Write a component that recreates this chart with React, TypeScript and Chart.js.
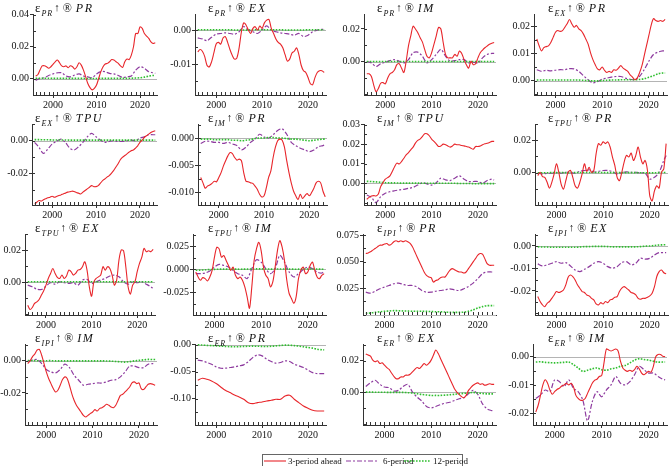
import React, { useEffect, useRef } from 'react';
import { Chart, registerables } from 'chart.js';

Chart.register(...registerables);

// ---------- x grids ----------
const HALF_YEARS = [
  1996, 1996.5, 1997, 1997.5, 1998, 1998.5, 1999, 1999.5, 2000, 2000.5, 2001, 2001.5, 2002, 2002.5,
  2003, 2003.5, 2004, 2004.5, 2005, 2005.5, 2006, 2006.5, 2007, 2007.5, 2008, 2008.5, 2009, 2009.5,
  2010, 2010.5, 2011, 2011.5, 2012, 2012.5, 2013, 2013.5, 2014, 2014.5, 2015, 2015.5, 2016, 2016.5,
  2017, 2017.5, 2018, 2018.5, 2019, 2019.5, 2020, 2020.5, 2021, 2021.5, 2022, 2022.5, 2023, 2023.5,
];
const YEARS = [
  1996, 1997, 1998, 1999, 2000, 2001, 2002, 2003, 2004, 2005, 2006, 2007, 2008, 2009,
  2010, 2011, 2012, 2013, 2014, 2015, 2016, 2017, 2018, 2019, 2020, 2021, 2022, 2023, 2023.5,
];
const X_TICKS = [2000, 2010, 2020];
const SERIES_LABELS = ['3-period ahead', '6-period', '12-period'];

// ---------- PR -> PR ----------
const PR_PR_3 = [
  0.0017, 0.0025, 0.0054, 0.008, 0.0081, 0.0075, 0.0065, 0.0075,
  0.009, 0.0106, 0.0117, 0.010, 0.008, 0.0075, 0.008, 0.0069,
  0.0081, 0.0075, 0.006, 0.0075, 0.010, 0.0085, 0.0054, 0.0013,
  -0.003, -0.0056, -0.007, -0.006, -0.004, 0.0002, 0.0044, 0.0075,
  0.0092, 0.0096, 0.0106, 0.012, 0.0117, 0.0106, 0.0096, 0.008,
  0.0071, 0.0106, 0.0123, 0.012, 0.0148, 0.02, 0.0283, 0.0283,
  0.0325, 0.0315, 0.0283, 0.0267, 0.0252, 0.0231, 0.022, 0.0225,
];
const PR_PR_6 = [
  -0.001, 0.0002, 0.0006, 0.002, 0.003, 0.0037, 0.0037, 0.0017, 0.0012, 0.0023, 0.003, 0.0017, 0.0012, 0.0006,
  0.003, 0.0044, 0.0044, 0.0033, 0.003, 0.002, 0.0008, 0.0012, 0.0017, 0.0054, 0.0075, 0.0065, 0.0044, 0.0037, 0.0033,
];
const PR_PR_12 = [
  0.0002, 0.0002, 0.0003, 0.0003, 0.0002, 0.0002, 0.0002, 0.0002, 0.0002, 0.0002, 0.0002, 0.0002, 0.0001, 0.0001,
  0.0001, 0.0002, 0.0002, 0.0002, 0.0002, 0.0002, 0.0002, 0.0002, 0.0003, 0.0004, 0.0006, 0.001, 0.0016, 0.002, 0.002,
];

// ---------- PR -> EX ----------
const PR_EX_3 = [
  -0.0064, -0.0057, -0.0062, -0.0077, -0.0103, -0.0108, -0.0093, -0.0067,
  -0.0041, -0.0036, -0.0041, -0.0023, -0.0019, -0.0036, -0.0057, -0.0074,
  -0.0085, -0.0082, -0.0052, -0.0005, 0.0021, 0.0015, 0.0, -0.001,
  0.0005, 0.001, 0.0, 0.0012, 0.0005, 0.0021, 0.0029, 0.0031,
  0.0005, -0.001, -0.0026, -0.0036, -0.0041, -0.0052, -0.0072, -0.0091,
  -0.0085, -0.0067, -0.0062, -0.0052, -0.0072, -0.0103, -0.0119, -0.0124,
  -0.0139, -0.0157, -0.016, -0.0139, -0.0124, -0.0119, -0.0119, -0.0124,
];
const PR_EX_6 = [
  -0.0023, -0.0026, -0.0031, -0.0021, -0.0012, -0.001, -0.0008, -0.001, -0.0012, -0.0005, 0.001, 0.0, -0.0005, -0.001,
  0.0, 0.0012, 0.0, -0.0005, -0.0008, -0.001, -0.0012, -0.0015, -0.001, -0.0019, -0.0015, -0.0005, 0.0, 0.0002, 0.0002,
];
const PR_EX_12 = [
  0.0001, 0.0001, 0.0001, 0.0001, 0.0001, 0.0001, 0.0001, 0.0001, 0.0, 0.0, 0.0, 0.0, 0.0001, 0.0001,
  0.0001, 0.0001, 0.0001, 0.0001, 0.0001, 0.0, 0.0, 0.0, 0.0, 0.0, 0.0001, 0.0001, 0.0001, 0.0001, 0.0001,
];

// ---------- PR -> IM ----------
const PR_IM_3 = [
  -0.0075, -0.0075, -0.0092, -0.0144, -0.0185, -0.0165, -0.0133, -0.0129,
  -0.0137, -0.0102, -0.0075, -0.0067, -0.005, -0.0019, -0.0013, -0.004,
  -0.0067, 0.0002, 0.0096, 0.0158, 0.0217, 0.02, 0.0179, 0.0148,
  0.0121, 0.0075, 0.0033, 0.0023, 0.0054, 0.0106, 0.0158, 0.021,
  0.02, 0.0117, 0.0044, 0.0023, 0.0023, 0.0023, 0.0044, 0.0033,
  0.0065, 0.005, 0.0012, -0.0019, -0.004, 0.0002, -0.0019, -0.0013,
  0.0023, 0.0054, 0.0071, 0.0085, 0.0096, 0.0106, 0.0113, 0.0117,
];
const PR_IM_6 = [
  0.0, -0.0008, -0.003, -0.0013, -0.0004, 0.0006, 0.0012, 0.0002, -0.0008, 0.0012, 0.0054, 0.0058, 0.0033, -0.0008,
  0.0012, 0.0044, 0.0075, 0.0033, 0.0002, 0.0006, 0.0012, 0.0012, -0.0008, -0.0004, -0.0008, 0.0023, 0.0044, 0.005, 0.005,
];
const PR_IM_12 = [
  0.0001, 0.0001, 0.0001, 0.0001, 0.0001, 0.0001, 0.0001, 0.0001, 0.0001, 0.0001, 0.0001, 0.0001, 0.0001, 0.0001,
  0.0001, 0.0001, 0.0001, 0.0001, 0.0001, 0.0001, 0.0001, 0.0001, 0.0001, 0.0001, 0.0001, 0.0001, 0.0001, 0.0001, 0.0001,
];

// ---------- EX -> PR ----------
const EX_PR_3 = [
  0.0153, 0.0128, 0.0109, 0.0121, 0.0125, 0.0128, 0.014, 0.0159,
  0.0178, 0.0184, 0.0181, 0.0184, 0.0196, 0.0209, 0.0225, 0.0209,
  0.0196, 0.0203, 0.019, 0.0184, 0.0171, 0.0153, 0.0134, 0.0103,
  0.0078, 0.0059, 0.0043, 0.004, 0.005, 0.0038, 0.003, 0.0034,
  0.003, 0.004, 0.0038, 0.0046, 0.0055, 0.0046, 0.004, 0.0034,
  0.0021, 0.0013, 0.0003, 0.0009, 0.0028, 0.0053, 0.009, 0.0128,
  0.0165, 0.0203, 0.0228, 0.0221, 0.0218, 0.0221, 0.0218, 0.0225,
];
const EX_PR_6 = [
  0.004, 0.0034, 0.0038, 0.0036, 0.0038, 0.004, 0.004, 0.0044, 0.0043, 0.0034, 0.0018, 0.0003, -0.0008, -0.0004,
  0.0005, 0.0009, 0.0013, 0.0015, 0.0015, 0.0009, 0.0005, 0.0003, 0.0015, 0.004, 0.0071, 0.0096, 0.0105, 0.0109, 0.0109,
];
const EX_PR_12 = [
  0.0002, 0.0002, 0.0002, 0.0002, 0.0002, 0.0002, 0.0002, 0.0002, 0.0002, 0.0002, 0.0001, 0.0, -0.0001, -0.0001,
  0.0, 0.0001, 0.0002, 0.0002, 0.0003, 0.0003, 0.0003, 0.0003, 0.0004, 0.0007, 0.0012, 0.0018, 0.0025, 0.0028, 0.0028,
];

// ---------- EX -> TPU ----------
const EX_TPU_3 = [
  -0.039, -0.0378, -0.0367, -0.0371, -0.0363, -0.0357, -0.0351, -0.0347,
  -0.0341, -0.0347, -0.0343, -0.0337, -0.0333, -0.0327, -0.0322, -0.0316,
  -0.0314, -0.031, -0.0312, -0.0318, -0.0322, -0.0327, -0.0316, -0.0306,
  -0.0296, -0.0286, -0.0276, -0.0282, -0.0282, -0.0276, -0.0261, -0.0245,
  -0.0235, -0.0224, -0.0214, -0.02, -0.0184, -0.0163, -0.0143, -0.0118,
  -0.0102, -0.0092, -0.0082, -0.0071, -0.0061, -0.0057, -0.0045, -0.0031,
  -0.001, 0.0004, 0.002, 0.0031, 0.0041, 0.0051, 0.0057, 0.0061,
];
const EX_TPU_6 = [
  -0.001, -0.0041, -0.0078, -0.0051, -0.002, -0.0004, 0.001, -0.001, -0.0045, -0.0057, -0.0037, -0.001, 0.0024, 0.0045,
  0.0024, 0.0004, -0.001, -0.0004, 0.0, -0.0004, -0.0004, 0.0, 0.0004, 0.0, 0.0016, 0.0024, 0.0037, 0.0037, 0.0037,
];
const EX_TPU_12 = [
  0.0007, 0.0007, 0.0006, 0.0006, 0.0005, 0.0005, 0.0005, 0.0005, 0.0004, 0.0004, 0.0004, 0.0004, 0.0004, 0.0004,
  0.0004, 0.0004, 0.0004, 0.0004, 0.0004, 0.0004, 0.0004, 0.0004, 0.0004, 0.0004, 0.0004, 0.0004, 0.0004, 0.0004, 0.0004,
];

// ---------- IM -> PR ----------
const IM_PR_3 = [
  -0.0073, -0.0083, -0.0093, -0.0089, -0.0087, -0.0084, -0.008, -0.0081,
  -0.0073, -0.0064, -0.0052, -0.0042, -0.0033, -0.0027, -0.0029, -0.0036,
  -0.0041, -0.0039, -0.0042, -0.0064, -0.008, -0.0081, -0.0083, -0.0084,
  -0.0089, -0.0095, -0.0104, -0.0109, -0.0107, -0.0092, -0.0073, -0.0061,
  -0.0036, -0.0017, -0.0005, -0.0002, -0.0004, -0.0017, -0.0042, -0.0064,
  -0.0083, -0.0098, -0.0107, -0.0114, -0.0104, -0.0112, -0.0107, -0.0103,
  -0.0107, -0.0101, -0.0093, -0.0083, -0.008, -0.0083, -0.0098, -0.0109,
];
const IM_PR_6 = [
  -0.001, -0.0006, -0.0006, -0.0008, -0.0008, -0.001, -0.0008, -0.0011, -0.0014, -0.0022, -0.0017, -0.0008, -0.0002, 0.0007,
  0.0002, 0.0, 0.0006, 0.0014, 0.0017, 0.0007, -0.0008, -0.0014, -0.0019, -0.0022, -0.0025, -0.0022, -0.0016, -0.0014, -0.0012,
];
const IM_PR_12 = [
  -0.0002, -0.0002, -0.0002, -0.0003, -0.0003, -0.0003, -0.0003, -0.0004, -0.0004, -0.0005, -0.0004, -0.0003, -0.0001, 0.0,
  0.0, 0.0001, 0.0001, 0.0, 0.0, -0.0001, -0.0002, -0.0002, -0.0003, -0.0004, -0.0005, -0.0004, -0.0003, -0.0002, -0.0002,
];

// ---------- IM -> TPU ----------
const IM_TPU_3 = [
  -0.0082, -0.0072, -0.0065, -0.0063, -0.0065, -0.0055, -0.0017, 0.0003,
  0.0021, 0.0029, 0.0038, 0.006, 0.0085, 0.0103, 0.0099, 0.0111,
  0.0128, 0.0145, 0.0157, 0.0171, 0.0185, 0.0205, 0.0219, 0.0226,
  0.0239, 0.0253, 0.0253, 0.0243, 0.0226, 0.0214, 0.0202, 0.0188,
  0.0191, 0.02, 0.0197, 0.0191, 0.0185, 0.0191, 0.02, 0.0197,
  0.0197, 0.0193, 0.0191, 0.0188, 0.0185, 0.0179, 0.0174, 0.0188,
  0.0188, 0.0191, 0.0197, 0.0202, 0.0205, 0.0209, 0.0214, 0.0214,
];
const IM_TPU_6 = [
  -0.006, -0.0072, -0.0099, -0.0068, -0.0051, -0.0043, -0.0038, -0.0034, -0.0031, -0.0026, -0.0021, -0.0009, 0.0003, -0.0003,
  -0.0009, 0.0003, 0.0026, 0.0017, 0.0014, 0.0026, 0.0038, 0.0021, 0.0009, 0.0009, 0.0009, 0.0, 0.0014, 0.0021, 0.0017,
];
const IM_TPU_12 = [
  0.001, 0.0009, 0.0007, 0.0005, 0.0003, 0.0002, 0.0002, 0.0001, 0.0001, 0.0001, 0.0001, 0.0001, 0.0, 0.0,
  0.0, 0.0, 0.0, 0.0, 0.0, 0.0, -0.0001, -0.0001, -0.0001, -0.0002, -0.0002, -0.0002, -0.0002, -0.0002, -0.0002,
];

// ---------- TPU -> PR ----------
const TPU_PR_3 = [
  -0.0019, 0.0002, -0.0025, -0.0029, -0.006, -0.0096, -0.006, -0.0008,
  0.0054, 0.0002, -0.0071, -0.0102, -0.005, 0.0002, 0.0013, -0.0029,
  -0.0081, -0.0096, -0.006, -0.0008, 0.0054, 0.0008, 0.0033, 0.0002,
  0.0013, 0.0117, 0.0179, 0.0169, 0.019, 0.0179, 0.019, 0.0158,
  0.0096, 0.0044, -0.0029, -0.005, 0.0002, 0.0065, 0.0106, 0.0096,
  0.0121, 0.0075, 0.0106, 0.0158, 0.0096, 0.0054, 0.0075, 0.0013,
  -0.0144, -0.0175, -0.0113, -0.0081, -0.0096, 0.0002, 0.0023, 0.0179,
];
const TPU_PR_6 = [
  -0.0004, -0.0008, -0.0004, -0.0004, 0.0, -0.0004, 0.0002, 0.0, -0.0004, 0.0008, 0.0013, 0.0017, 0.0004, 0.0008,
  0.0013, 0.0013, 0.0006, -0.0008, 0.0, 0.0004, 0.0002, 0.0002, -0.0002, -0.0004, -0.004, -0.0029, 0.0002, 0.0075, 0.0106,
];
const TPU_PR_12 = [
  -0.0001, -0.0001, -0.0001, 0.0, 0.0, 0.0, 0.0, 0.0, 0.0, 0.0001, 0.0001, 0.0001, 0.0001, 0.0001,
  0.0, 0.0, 0.0, 0.0, 0.0, 0.0, 0.0, 0.0, -0.0001, -0.0001, -0.0002, -0.0001, 0.0, 0.0001, 0.0001,
];

// ---------- TPU -> EX ----------
const TPU_EX_3 = [
  -0.0144, -0.0171, -0.0158, -0.0133, -0.0123, -0.0108, -0.0081, -0.0054,
  -0.0019, 0.0023, 0.0054, 0.0085, 0.0054, 0.0029, 0.0023, 0.0044,
  0.0023, 0.0038, 0.0075, 0.0065, 0.0044, 0.0054, 0.0075, 0.0079,
  0.0096, 0.0127, 0.0075, -0.0029, -0.0088, 0.0002, 0.0023, 0.0033,
  0.0044, 0.0096, 0.0075, 0.0096, 0.0085, 0.0044, -0.0019, 0.0013,
  0.0138, 0.02, 0.0196, 0.0096, -0.0029, -0.0075, -0.0019, 0.0002,
  0.0065, 0.0117, 0.0154, 0.021, 0.019, 0.0196, 0.019, 0.0204,
];
const TPU_EX_6 = [
  -0.0019, -0.0029, -0.0044, -0.0046, -0.0025, -0.0004, -0.0013, 0.0002, -0.0004, -0.0008, -0.0004, -0.0019, 0.0013, 0.0017,
  -0.0008, 0.0002, 0.0013, 0.0023, 0.0038, 0.0044, 0.0033, 0.0002, -0.0013, 0.0002, -0.0004, 0.0002, -0.0013, -0.0029, -0.004,
];
const TPU_EX_12 = [
  0.0002, 0.0002, 0.0002, 0.0002, 0.0002, 0.0002, 0.0002, 0.0002, 0.0002, 0.0002, 0.0002, 0.0002, 0.0002, 0.0002,
  0.0002, 0.0002, 0.0002, 0.0002, 0.0002, 0.0002, 0.0002, 0.0002, 0.0002, 0.0002, 0.0002, 0.0002, 0.0002, 0.0002, 0.0002,
];

// ---------- TPU -> IM ----------
const TPU_IM_3 = [
  -0.0029, -0.0083, -0.0119, -0.009, -0.0101, -0.0126, -0.0083, -0.0011,
  0.0133, 0.0241, 0.0223, 0.0133, 0.0151, 0.0097, 0.0043, -0.0011,
  0.0025, -0.0065, -0.0101, -0.0083, -0.0119, -0.0191, -0.0299, -0.0424,
  -0.0191, 0.0097, 0.0223, 0.0295, 0.0205, 0.0025, -0.0065, -0.0101,
  -0.0191, -0.0137, 0.0025, 0.0205, 0.0313, 0.0241, 0.0097, -0.0119,
  -0.0263, -0.0317, -0.037, -0.0299, -0.0101, -0.0011, 0.0025, -0.0047,
  -0.0029, 0.0043, 0.0079, -0.0011, -0.0083, -0.0101, -0.0065, -0.0047,
];
const TPU_IM_6 = [
  -0.0047, -0.0047, -0.004, -0.0018, 0.0025, 0.0054, 0.0043, 0.0025, -0.0011, -0.0047, -0.0065, -0.0101, 0.0007, 0.0104,
  0.0079, 0.0007, -0.0047, 0.0007, 0.0151, 0.0079, -0.0029, -0.0083, -0.0047, -0.0004, 0.0025, 0.0007, -0.0029, -0.004, -0.0018,
];
const TPU_IM_12 = [
  -0.001, -0.0008, -0.0005, -0.0002, 0.0, 0.0002, 0.0003, 0.0003, 0.0003, 0.0002, 0.0002, 0.0003, 0.0004, 0.0005,
  0.0005, 0.0004, 0.0003, 0.0003, 0.0004, 0.0004, 0.0003, 0.0002, 0.0002, 0.0003, 0.0004, 0.0004, 0.0003, 0.0002, 0.0002,
];

// ---------- IPI -> PR ----------
const IPI_PR_3 = [
  0.0576, 0.0582, 0.0592, 0.0608, 0.0623, 0.0639, 0.0655, 0.0655,
  0.0665, 0.0671, 0.0655, 0.0665, 0.0687, 0.0696, 0.0687, 0.0696,
  0.0687, 0.0696, 0.0687, 0.0671, 0.0639, 0.0592, 0.0544, 0.0497,
  0.045, 0.0402, 0.037, 0.0355, 0.0348, 0.0307, 0.0323, 0.0329,
  0.0348, 0.0355, 0.0355, 0.0386, 0.0418, 0.0434, 0.0424, 0.0411,
  0.0402, 0.0402, 0.0392, 0.0402, 0.0434, 0.0465, 0.0497, 0.0528,
  0.056, 0.0576, 0.057, 0.0528, 0.0481, 0.0465, 0.0465, 0.0465,
];
const IPI_PR_6 = [
  0.0212, 0.0203, 0.0221, 0.0244, 0.026, 0.0275, 0.0291, 0.0297, 0.0285, 0.0275, 0.0275, 0.026, 0.0228, 0.0212,
  0.0212, 0.0221, 0.0228, 0.0234, 0.0244, 0.0234, 0.0228, 0.0244, 0.0266, 0.0297, 0.0339, 0.0386, 0.0402, 0.0402, 0.0402,
];
const IPI_PR_12 = [
  0.0013, 0.0016, 0.0022, 0.0027, 0.0032, 0.0035, 0.0038, 0.0037, 0.0035, 0.0034, 0.0032, 0.0032, 0.0032, 0.0031,
  0.0029, 0.0028, 0.0027, 0.0025, 0.0022, 0.0022, 0.0022, 0.0024, 0.0032, 0.0044, 0.0063, 0.0076, 0.0085, 0.0085, 0.0085,
];

// ---------- IPI -> EX ----------
const IPI_EX_3 = [
  -0.0225, -0.0247, -0.0262, -0.027, -0.0255, -0.0247, -0.0233, -0.0218,
  -0.0203, -0.0207, -0.0203, -0.0196, -0.0173, -0.0139, -0.0129, -0.0136,
  -0.0151, -0.0173, -0.0188, -0.0203, -0.0207, -0.0218, -0.0222, -0.0233,
  -0.024, -0.0258, -0.0262, -0.0252, -0.0258, -0.0247, -0.0252, -0.024,
  -0.0237, -0.0228, -0.0225, -0.0203, -0.0188, -0.0181, -0.0188, -0.0196,
  -0.0207, -0.021, -0.0218, -0.0233, -0.0237, -0.0233, -0.0233, -0.0228,
  -0.0222, -0.021, -0.0181, -0.0136, -0.0114, -0.0107, -0.0119, -0.0124,
];
const IPI_EX_6 = [
  -0.008, -0.0089, -0.0084, -0.0077, -0.007, -0.0077, -0.0074, -0.0089, -0.0107, -0.0114, -0.0104, -0.0092, -0.0077, -0.007,
  -0.0077, -0.0092, -0.0099, -0.0092, -0.0074, -0.007, -0.0084, -0.0077, -0.0055, -0.0059, -0.0055, -0.004, -0.003, -0.003, -0.003,
];
const IPI_EX_12 = [
  -0.0004, -0.0005, -0.0005, -0.0006, -0.0006, -0.0006, -0.0006, -0.0006, -0.0006, -0.0005, -0.0003, -0.0003, -0.0002, -0.0002,
  -0.0002, -0.0003, -0.0004, -0.0004, -0.0004, -0.0004, -0.0004, -0.0004, -0.0003, -0.0001, 0.0, 0.0002, 0.0004, 0.0005, 0.0005,
];

// ---------- IPI -> IM ----------
const IPI_IM_3 = [
  -0.0017, 0.0, 0.0025, 0.0042, 0.0067, 0.0071, 0.0035, -0.0017,
  -0.0069, -0.011, -0.0142, -0.0173, -0.0194, -0.0183, -0.0152, -0.0117,
  -0.01, -0.011, -0.0152, -0.0204, -0.0246, -0.0277, -0.0298, -0.0319,
  -0.034, -0.035, -0.034, -0.0329, -0.0319, -0.0304, -0.0313, -0.0298,
  -0.0292, -0.0283, -0.0271, -0.0277, -0.0288, -0.0292, -0.0277, -0.0246,
  -0.0215, -0.0208, -0.0194, -0.0179, -0.0163, -0.0138, -0.0131, -0.0142,
  -0.0138, -0.0173, -0.0179, -0.0163, -0.0146, -0.0142, -0.0146, -0.0152,
];
const IPI_IM_6 = [
  0.0, 0.0004, 0.0008, -0.0017, -0.0054, -0.0069, -0.0075, -0.0054, -0.0021, -0.0042, -0.009, -0.0121, -0.0152, -0.0146,
  -0.0142, -0.0138, -0.0138, -0.0131, -0.0121, -0.0117, -0.01, -0.0069, -0.0033, -0.0033, -0.0042, -0.0042, -0.0021, -0.0017, -0.0013,
];
const IPI_IM_12 = [
  0.0002, 0.0002, 0.0001, 0.0001, 0.0001, 0.0001, 0.0, 0.0, 0.0, 0.0, 0.0, 0.0, 0.0, 0.0,
  0.0, 0.0, 0.0, -0.0001, -0.0002, -0.0004, -0.0006, -0.0008, -0.0005, 0.0, 0.0003, 0.0006, 0.0009, 0.0008, 0.0008,
];

// ---------- ER -> PR ----------
const ER_PR_3 = [
  -0.0658, -0.0621, -0.064, -0.0671, -0.072, -0.0783, -0.0845, -0.0888, -0.0932, -0.0969, -0.1012, -0.1075, -0.1093, -0.1075,
  -0.1062, -0.1043, -0.1031, -0.1012, -0.1012, -0.095, -0.0938, -0.1012, -0.1075, -0.1137, -0.118, -0.1217, -0.123, -0.123, -0.123,
];
const ER_PR_6 = [
  -0.0286, -0.0298, -0.0329, -0.036, -0.041, -0.0435, -0.0435, -0.0422, -0.041, -0.0391, -0.0373, -0.0311, -0.0236, -0.0186,
  -0.0205, -0.0267, -0.0311, -0.0342, -0.0329, -0.0298, -0.0311, -0.036, -0.0391, -0.0422, -0.0472, -0.0516, -0.0534, -0.0534, -0.0534,
];
const ER_PR_12 = [
  0.0, -0.0005, -0.001, -0.0015, -0.0019, -0.0025, -0.003, -0.0034, -0.0037, -0.0035, -0.003, -0.0027, -0.0025, -0.0027,
  -0.003, -0.0031, -0.0028, -0.002, -0.0012, -0.0006, -0.0008, -0.0015, -0.0025, -0.0037, -0.005, -0.0062, -0.0081, -0.0093, -0.0093,
];

// ---------- ER -> EX ----------
const ER_EX_3 = [
  0.0243, 0.0236, 0.023, 0.0204, 0.0194, 0.02, 0.0183, 0.0187,
  0.0172, 0.0157, 0.0145, 0.0123, 0.0102, 0.0087, 0.0087, 0.0098,
  0.0098, 0.0109, 0.0109, 0.0115, 0.013, 0.0145, 0.0157, 0.0151,
  0.0166, 0.0183, 0.0172, 0.0183, 0.0204, 0.0236, 0.0268, 0.0247,
  0.0215, 0.0183, 0.0151, 0.0119, 0.0087, 0.0055, 0.0023, 0.0002,
  -0.0013, -0.0026, -0.0034, -0.0019, 0.0013, 0.003, 0.0045, 0.0055,
  0.006, 0.0051, 0.0055, 0.0045, 0.0049, 0.0055, 0.0051, 0.0051,
];
const ER_EX_6 = [
  0.0038, 0.006, 0.0077, 0.0051, 0.0034, 0.003, 0.0009, 0.0013, 0.0038, 0.0051, 0.0002, -0.003, -0.0055, -0.0089,
  -0.0098, -0.0089, -0.0077, -0.0068, -0.0062, -0.0051, -0.004, -0.0034, -0.0009, 0.0013, -0.0013, -0.0072, -0.0104, -0.0115, -0.0119,
];
const ER_EX_12 = [
  0.0002, 0.0002, 0.0001, 0.0001, 0.0001, 0.0, 0.0, 0.0, 0.0, -0.0002, -0.0004, -0.0008, -0.0013, -0.0016,
  -0.0019, -0.0019, -0.0019, -0.0017, -0.0015, -0.0012, -0.0009, -0.0006, -0.0004, 0.0, -0.0004, -0.0007, -0.0009, -0.0009, -0.0009,
];

// ---------- ER -> IM ----------
const ER_IM_3 = [
  -0.0196, -0.0172, -0.0136, -0.01, -0.0082, -0.0094, -0.0118, -0.0133,
  -0.0124, -0.0116, -0.0112, -0.0104, -0.01, -0.0094, -0.01, -0.0094,
  -0.0106, -0.0136, -0.0148, -0.0154, -0.0154, -0.0148, -0.013, -0.0112,
  -0.0094, -0.0084, -0.008, -0.007, -0.0067, -0.0022, 0.0027, 0.0024,
  0.002, 0.0024, 0.0027, 0.002, -0.0016, -0.004, -0.0048, -0.0052,
  -0.0048, -0.0052, -0.0046, -0.0034, -0.0043, -0.0058, -0.0064, -0.0058,
  -0.0052, -0.0055, -0.0034, 0.0, 0.0008, 0.0008, 0.0002, 0.0,
];
const ER_IM_6 = [
  -0.0148, -0.0136, -0.0118, -0.0124, -0.0082, -0.0088, -0.0106, -0.0082, -0.0112, -0.0124, -0.0154, -0.0227, -0.016, -0.0124,
  -0.0142, -0.0118, -0.01, -0.007, -0.0094, -0.01, -0.0088, -0.0064, -0.0034, -0.0046, -0.0058, -0.0058, -0.007, -0.008, -0.0082,
];
const ER_IM_12 = [
  -0.0019, -0.0018, -0.002, -0.0021, -0.0022, -0.0021, -0.002, -0.0019, -0.0028, -0.004, -0.0052, -0.0048, -0.0043, -0.004,
  -0.0046, -0.0048, -0.0043, -0.004, -0.0034, -0.0031, -0.0022, -0.0012, -0.0007, -0.001, -0.0012, -0.0016, -0.0019, -0.0019, -0.0019,
];

// ---------- panel definitions ----------
type PanelDef = {
  shock: string; target: string;
  s3: number[]; s6: number[]; s12: number[];
  min: number; max: number; ticks: number[]; minorStep: number; decimals: number;
};

const PANELS: PanelDef[] = [
  { shock: 'PR', target: 'PR', s3: PR_PR_3, s6: PR_PR_6, s12: PR_PR_12, min: -0.0102, max: 0.0405, ticks: [0, 0.02, 0.04], minorStep: 0.01, decimals: 2 },
  { shock: 'PR', target: 'EX', s3: PR_EX_3, s6: PR_EX_6, s12: PR_EX_12, min: -0.019, max: 0.0047, ticks: [-0.01, 0], minorStep: 0.005, decimals: 2 },
  { shock: 'PR', target: 'IM', s3: PR_IM_3, s6: PR_IM_6, s12: PR_IM_12, min: -0.0205, max: 0.0292, ticks: [0, 0.02], minorStep: 0.01, decimals: 2 },
  { shock: 'EX', target: 'PR', s3: EX_PR_3, s6: EX_PR_6, s12: EX_PR_12, min: -0.0053, max: 0.0245, ticks: [0, 0.01, 0.02], minorStep: 0.005, decimals: 2 },
  { shock: 'EX', target: 'TPU', s3: EX_TPU_3, s6: EX_TPU_6, s12: EX_TPU_12, min: -0.0395, max: 0.0103, ticks: [-0.02, 0], minorStep: 0.01, decimals: 2 },
  { shock: 'IM', target: 'PR', s3: IM_PR_3, s6: IM_PR_6, s12: IM_PR_12, min: -0.0124, max: 0.0026, ticks: [-0.01, -0.005, 0], minorStep: 0.0025, decimals: 3 },
  { shock: 'IM', target: 'TPU', s3: IM_TPU_3, s6: IM_TPU_6, s12: IM_TPU_12, min: -0.0111, max: 0.0303, ticks: [0, 0.01, 0.02, 0.03], minorStep: 0.005, decimals: 2 },
  { shock: 'TPU', target: 'PR', s3: TPU_PR_3, s6: TPU_PR_6, s12: TPU_PR_12, min: -0.02, max: 0.03, ticks: [0, 0.02], minorStep: 0.01, decimals: 2 },
  { shock: 'TPU', target: 'EX', s3: TPU_EX_3, s6: TPU_EX_6, s12: TPU_EX_12, min: -0.0205, max: 0.03, ticks: [0, 0.02], minorStep: 0.01, decimals: 2 },
  { shock: 'TPU', target: 'IM', s3: TPU_IM_3, s6: TPU_IM_6, s12: TPU_IM_12, min: -0.0497, max: 0.0385, ticks: [-0.025, 0, 0.025], minorStep: 0.0125, decimals: 3 },
  { shock: 'IPI', target: 'PR', s3: IPI_PR_3, s6: IPI_PR_6, s12: IPI_PR_12, min: -0.0003, max: 0.076, ticks: [0.025, 0.05, 0.075], minorStep: 0.0125, decimals: 3 },
  { shock: 'IPI', target: 'EX', s3: IPI_EX_3, s6: IPI_EX_6, s12: IPI_EX_12, min: -0.0307, max: 0.0053, ticks: [-0.02, -0.01, 0], minorStep: 0.005, decimals: 2 },
  { shock: 'IPI', target: 'IM', s3: IPI_IM_3, s6: IPI_IM_6, s12: IPI_IM_12, min: -0.04, max: 0.0105, ticks: [-0.02, 0], minorStep: 0.01, decimals: 2 },
  { shock: 'ER', target: 'PR', s3: ER_PR_3, s6: ER_PR_6, s12: ER_PR_12, min: -0.149, max: 0.0015, ticks: [-0.1, -0.05, 0], minorStep: 0.025, decimals: 2 },
  { shock: 'ER', target: 'EX', s3: ER_EX_3, s6: ER_EX_6, s12: ER_EX_12, min: -0.0206, max: 0.0306, ticks: [0, 0.02], minorStep: 0.01, decimals: 2 },
  { shock: 'ER', target: 'IM', s3: ER_IM_3, s6: ER_IM_6, s12: ER_IM_12, min: -0.0242, max: 0.0045, ticks: [-0.02, -0.01, 0], minorStep: 0.005, decimals: 2 },
];

// ---------- layout & style ----------
const COL_W = 168;
const ROW_H = 110;
const OVERLAP = 14; // extra canvas room on the left so long tick labels are not cut
const PLOT_TOP = 14;
const X_AXIS_H = 15;
const AXIS_X = [[33, 195, 364, 534], [32, 198, 364, 535], [25, 193, 363, 535], [25, 195, 363, 533]];
const RIGHT_X = [[157, 326, 496, 667], [157, 327, 496, 668], [155, 326, 496, 668], [157, 326, 496, 667]];
const TITLE_X = [35, 208, 377, 548];

const RED = '#e8262b';
const PURPLE = '#8e3b9f';
const GREEN = '#2fbf2f';
const ZERO_COLOR = '#b4b4b4';
const AXIS_COLOR = '#333333';
const FONT = "'Liberation Serif', 'DejaVu Serif', serif";

function toPoints(values: number[]) {
  const xs = values.length === HALF_YEARS.length ? HALF_YEARS : YEARS;
  return values.map((y, i) => ({ x: xs[i], y }));
}

const decorPlugin = {
  id: 'decor',
  beforeDatasetsDraw(chart: any) {
    const { ctx, chartArea, scales } = chart;
    const ys = scales.y;
    if (ys.min <= 0 && ys.max >= 0) {
      const py = Math.round(ys.getPixelForValue(0)) + 0.5;
      ctx.save();
      ctx.strokeStyle = ZERO_COLOR;
      ctx.lineWidth = 1;
      ctx.beginPath();
      ctx.moveTo(chartArea.left, py);
      ctx.lineTo(chartArea.right, py);
      ctx.stroke();
      ctx.restore();
    }
  },
  afterDraw(chart: any, _args: any, opts: any) {
    const { ctx, chartArea, scales } = chart;
    ctx.save();
    ctx.strokeStyle = AXIS_COLOR;
    ctx.lineWidth = 1;
    ctx.beginPath();
    for (let yr = 1996; yr <= 2023; yr++) {
      const px = Math.round(scales.x.getPixelForValue(yr)) + 0.5;
      ctx.moveTo(px, chartArea.bottom);
      ctx.lineTo(px, chartArea.bottom - 3);
    }
    const step = opts.minorStep;
    const k0 = Math.ceil(scales.y.min / step - 1e-6);
    const k1 = Math.floor(scales.y.max / step + 1e-6);
    for (let k = k0; k <= k1; k++) {
      const py = Math.round(scales.y.getPixelForValue(k * step)) + 0.5;
      ctx.moveTo(chartArea.left, py);
      ctx.lineTo(chartArea.left + 3, py);
    }
    ctx.stroke();

    // title: ε_shock ↑ ® target
    let x = opts.titleX;
    const base = 12;
    ctx.fillStyle = '#111';
    ctx.textBaseline = 'alphabetic';
    ctx.font = `13px ${FONT}`;
    ctx.fillText('ε', x, base);
    x += ctx.measureText('ε').width + 1;
    ctx.font = `italic 8px ${FONT}`;
    (ctx as any).letterSpacing = '1px';
    ctx.fillText(opts.shock, x, base + 4);
    x += ctx.measureText(opts.shock).width + 1;
    (ctx as any).letterSpacing = '0px';
    ctx.font = `11px ${FONT}`;
    ctx.fillText('↑', x, base - 1);
    x += ctx.measureText('↑').width + 3;
    ctx.font = `12px ${FONT}`;
    ctx.fillText('®', x, base);
    x += ctx.measureText('®').width + 4;
    ctx.font = `italic 12px ${FONT}`;
    (ctx as any).letterSpacing = '1.5px';
    ctx.fillText(opts.target, x, base);
    (ctx as any).letterSpacing = '0px';
    ctx.restore();
  },
};

function makeChart(canvas: HTMLCanvasElement, p: PanelDef, idx: number) {
  const row = Math.floor(idx / 4);
  const col = idx % 4;
  const left = col * COL_W - OVERLAP;
  const axisW = AXIS_X[row][col] - left;
  const rightPad = col * COL_W + COL_W - RIGHT_X[row][col];
  return new Chart(canvas, {
    type: 'line',
    data: {
      datasets: [
        { label: SERIES_LABELS[0], data: toPoints(p.s3), borderColor: RED, borderWidth: 1.1, pointRadius: 0, tension: 0.3, order: 0 },
        { label: SERIES_LABELS[1], data: toPoints(p.s6), borderColor: PURPLE, borderWidth: 1.2, borderDash: [5, 2, 2, 2], pointRadius: 0, tension: 0.3, order: 2 },
        { label: SERIES_LABELS[2], data: toPoints(p.s12), borderColor: GREEN, borderWidth: 1.6, borderDash: [1.6, 1.4], pointRadius: 0, tension: 0.3, order: 1 },
      ],
    },
    options: {
      responsive: false,
      animation: false,
      events: [],
      layout: { padding: { top: PLOT_TOP, right: rightPad, left: 0, bottom: 0 } },
      plugins: {
        legend: { display: false },
        tooltip: { enabled: false },
        decor: { minorStep: p.minorStep, titleX: TITLE_X[col] - left, shock: p.shock, target: p.target },
      } as any,
      scales: {
        x: {
          type: 'linear',
          min: 1995.4,
          max: 2023.9,
          afterBuildTicks: (s: any) => { s.ticks = X_TICKS.map((v) => ({ value: v })); },
          afterFit: (s: any) => { s.height = X_AXIS_H; },
          ticks: { font: { family: FONT, size: 10 }, color: '#111', padding: 1, maxRotation: 0, autoSkip: false, callback: (v: any) => String(v) },
          grid: { drawOnChartArea: false, tickLength: 3, color: AXIS_COLOR },
          border: { color: AXIS_COLOR },
        },
        y: {
          min: p.min,
          max: p.max,
          afterBuildTicks: (s: any) => { s.ticks = p.ticks.map((v) => ({ value: v })); },
          afterFit: (s: any) => { s.width = axisW; },
          ticks: { font: { family: FONT, size: 10 }, color: '#111', padding: 1, callback: (v: any) => Number(v).toFixed(p.decimals) },
          grid: { drawOnChartArea: false, tickLength: 3, color: AXIS_COLOR },
          border: { color: AXIS_COLOR },
        },
      },
    } as any,
    plugins: [decorPlugin as any],
  });
}

function LegendLine({ color, dash, width, w }: { color: string; dash?: string; width: number; w: number }) {
  return (
    <svg width={w} height={8} style={{ display: 'block' }}>
      <line x1={0} y1={4} x2={w} y2={4} stroke={color} strokeWidth={width} strokeDasharray={dash} />
    </svg>
  );
}

export default function App() {
  const refs = useRef<(HTMLCanvasElement | null)[]>([]);
  useEffect(() => {
    const charts = PANELS.map((p, i) => makeChart(refs.current[i] as HTMLCanvasElement, p, i));
    return () => charts.forEach((c) => c.destroy());
  }, []);

  const textStyle: React.CSSProperties = { position: 'absolute', top: 0, fontFamily: FONT, fontSize: 9, lineHeight: '12px', color: '#111', whiteSpace: 'nowrap' };
  return (
    <div style={{ position: 'absolute', left: 0, top: 0, width: 672, height: 466, background: '#fff', overflow: 'hidden' }}>
      {PANELS.map((_, i) => (
        <canvas
          key={i}
          ref={(el) => { refs.current[i] = el; }}
          width={COL_W + OVERLAP}
          height={ROW_H}
          style={{ position: 'absolute', left: (i % 4) * COL_W - OVERLAP, top: Math.floor(i / 4) * ROW_H, width: COL_W + OVERLAP, height: ROW_H }}
        />
      ))}
      <div style={{ position: 'absolute', left: 262, top: 454, width: 199, height: 12, border: '1px solid #666', background: '#fff' }}>
        <div style={{ position: 'absolute', left: 1, top: 2 }}><LegendLine color={RED} width={1.1} w={22} /></div>
        <div style={{ ...textStyle, left: 25 }}>{SERIES_LABELS[0]}</div>
        <div style={{ position: 'absolute', left: 83, top: 2 }}><LegendLine color={PURPLE} width={1.2} dash="5 2 2 2" w={32} /></div>
        <div style={{ ...textStyle, left: 120 }}>{SERIES_LABELS[1]}</div>
        <div style={{ position: 'absolute', left: 141, top: 2 }}><LegendLine color={GREEN} width={1.6} dash="1.6 1.4" w={27} /></div>
        <div style={{ ...textStyle, left: 170 }}>{SERIES_LABELS[2]}</div>
      </div>
    </div>
  );
}
